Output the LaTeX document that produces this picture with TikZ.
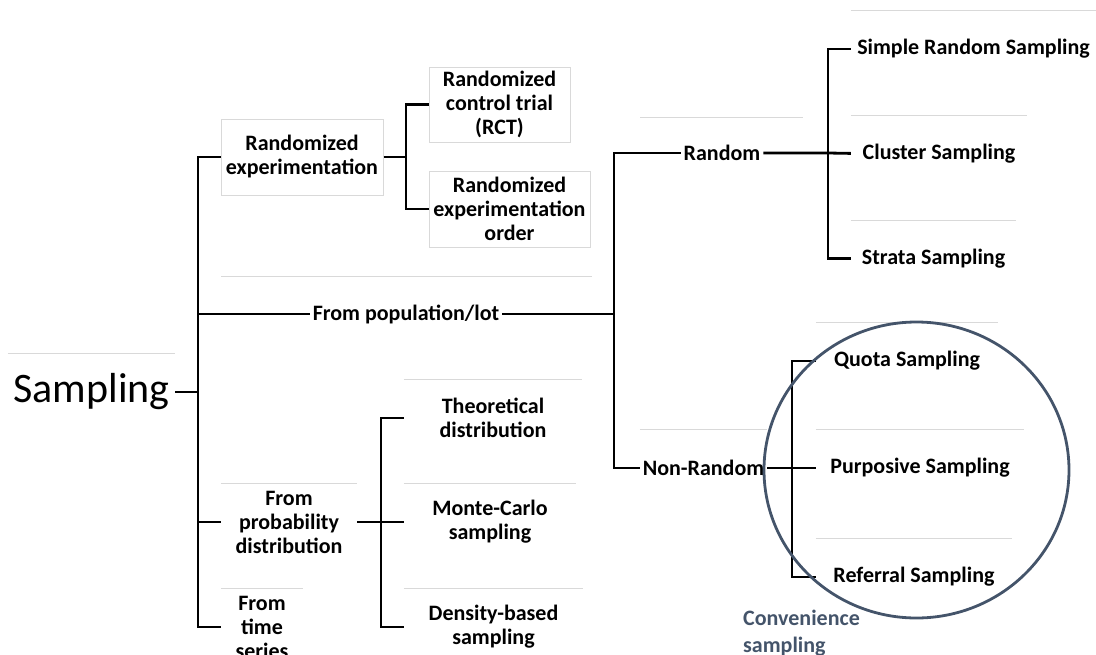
\documentclass[tikz,border=0pt]{standalone}
\usepackage{fontspec}
\setmainfont{Carlito}
\usetikzlibrary{positioning}
\definecolor{faint}{HTML}{D9D9D9}
\definecolor{slate}{HTML}{44546A}

\begin{document}
\begin{tikzpicture}[x=1pt, y=-1pt,
  main/.style = {minimum height=76pt, inner sep=0pt, align=center, font=\fontsize{22}{24}\selectfont\bfseries},
  plain/.style = {inner sep=3pt, align=center, font=\fontsize{22}{24}\selectfont\bfseries},
  boxed/.style = {main, draw=faint, line width=1pt},
  rim/.style = {draw=faint, line width=1pt},
  conn/.style = {line width=2.8pt}]
  \clip (0,0) rectangle (1096,654);

  % root and first level
  \node[main, font=\fontsize{42}{48}\selectfont, minimum width=167pt] (root) at (91.5,392) {Sampling};
  \node[boxed, minimum width=162pt] (rexp) at (302,157) {Randomized\\experimentation};
  \node[plain] (pop) at (406,314) {From population/lot};
  \node[main, minimum width=136pt] (prob) at (289,522) {From\\probability\\distribution};
  \node[main, minimum width=82pt] (time) at (262,627) {From\\time\\series};

  % randomized experimentation
  \node[boxed, minimum width=141pt, minimum height=75pt] (rct) at (499.5,104.5) {Randomized\\control trial\\(RCT)};
  \node[boxed, minimum width=161pt] (rorder) at (509.5,209) {Randomized\\experimentation\\order};

  % population
  \node[plain] (rand) at (722,153) {Random};
  \node[main, minimum width=127pt] (nonrand) at (703.5,468) {Non-Random};
  \node[main, minimum width=245pt] (simple) at (973.5,49) {Simple Random Sampling};
  \node[main, minimum width=176pt, below=28pt of simple.south west, anchor=north west] (cluster) {Cluster Sampling};
  \node[main, minimum width=165pt, below=29pt of cluster.south west, anchor=north west] (strata) {Strata Sampling};
  \node[main, minimum width=182pt] (quota) at (907,361) {Quota Sampling};
  \node[main, minimum width=208pt] (purp) at (920,468) {Purposive Sampling};
  \node[main, minimum width=196pt] (refer) at (914,577) {Referral Sampling};

  % probability distribution
  \node[main, minimum width=178pt] (theo) at (493,418) {Theoretical\\distribution};
  \node[main, minimum width=172pt] (monte) at (490,522) {Monte-Carlo\\sampling};
  \node[main, minimum width=179pt] (dens) at (493.5,627) {Density-based\\sampling};

  % faint tops
  \foreach \n in {root, prob, time, nonrand, simple, cluster, strata, quota, purp, refer, theo, monte, dens}
    \draw[rim] (\n.north west) -- (\n.north east);
  \draw[rim] (221,276) -- (592,276);
  \draw[rim] (640,117) -- (803,117);

  % joints
  \coordinate (tr) at (198,392);
  \coordinate (rx) at (406,157);
  \coordinate (nr) at (614,314);
  \coordinate (sx) at (828,153);
  \coordinate (qx) at (792,468);
  \coordinate (px) at (381,522);

  \draw[conn] (root.east) -- (tr);
  \draw[conn] (rexp.west) -| (tr) |- (time.west);
  \draw[conn] (tr |- pop) -- (pop.west);
  \draw[conn] (tr |- prob) -- (prob.west);

  \draw[conn] (rexp.east) -- (rx);
  \draw[conn] (rct.west) -| (rx) |- (rorder.west);

  \draw[conn] (pop.east) -- (nr);
  \draw[conn] (rand.west) -| (nr) |- (nonrand.west);
  \draw[conn] (rand.east) -- (sx) -- (cluster.west);
  \draw[conn] (simple.west) -| (sx) |- (strata.west);
  \draw[conn] (nonrand.east) -- (qx) -- (purp.west);
  \draw[conn] (quota.west) -| (qx) |- (refer.west);

  \draw[conn] (prob.east) -- (px) -- (monte.west);
  \draw[conn] (theo.west) -| (px) |- (dens.west);

  % convenience circle
  \draw[slate, line width=2.8pt] (916.5,470) ellipse [x radius=152.5pt, y radius=148pt];
  \node[anchor=north west, inner sep=0pt, align=left, text=slate, font=\fontsize{22}{27}\selectfont\bfseries] (conv) at (743,610) {Convenience\\sampling};
\end{tikzpicture}
\end{document}
